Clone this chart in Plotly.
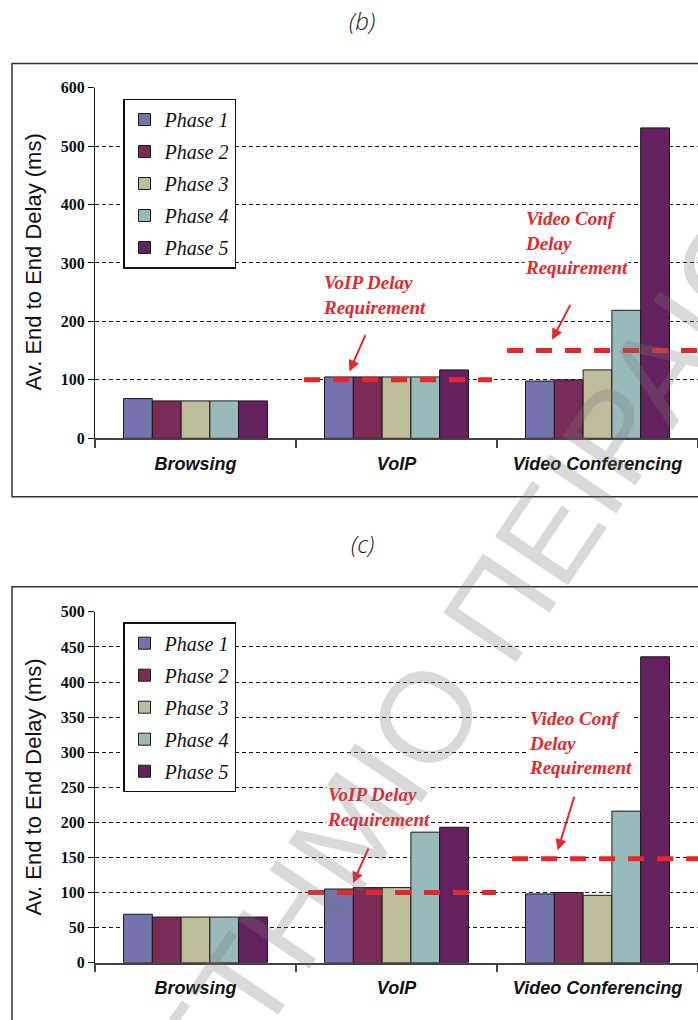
import plotly.graph_objects as go

# ---------------- data ----------------
categories = ["Browsing", "VoIP", "Video Conferencing"]
phases = ["Phase 1", "Phase 2", "Phase 3", "Phase 4", "Phase 5"]

# panel (b)
b_phase1 = [68, 105, 98]
b_phase2 = [64, 105, 100]
b_phase3 = [64, 105, 117]
b_phase4 = [64, 105, 219]
b_phase5 = [64, 117, 531]

# panel (c)
c_phase1 = [69, 105, 98]
c_phase2 = [65, 107, 100]
c_phase3 = [65, 107, 96]
c_phase4 = [65, 186, 216]
c_phase5 = [65, 193, 436]

voip_requirement = 100
video_requirement_b = 150
video_requirement_c = 148

b_ticks = [0, 100, 200, 300, 400, 500, 600]
c_ticks = [0, 50, 100, 150, 200, 250, 300, 350, 400, 450, 500]

# ---------------- style ----------------
colors = ["#7373ae", "#7b2b58", "#bebc99", "#98baba", "#64215f"]
RED = "#e5272b"
W, H = 698, 1020


def px_x(p):
    return p / W


def px_y(p):
    # vertical pixel (from top) -> paper coordinate
    return 1 - ((p - 7.4) / 0.984) / H


fig = go.Figure()

b_series = [b_phase1, b_phase2, b_phase3, b_phase4, b_phase5]
c_series = [c_phase1, c_phase2, c_phase3, c_phase4, c_phase5]

for i, (name, vals) in enumerate(zip(phases, b_series)):
    fig.add_trace(go.Bar(
        x=categories, y=vals, name=name, xaxis="x", yaxis="y",
        marker=dict(color=colors[i], line=dict(color="#1a1a1a", width=1)),
        legend="legend", legendgroup="b" + str(i),
    ))
for i, (name, vals) in enumerate(zip(phases, c_series)):
    fig.add_trace(go.Bar(
        x=categories, y=vals, name=name, xaxis="x2", yaxis="y2",
        marker=dict(color=colors[i], line=dict(color="#1a1a1a", width=1)),
        legend="legend2", legendgroup="c" + str(i),
    ))

xaxis_common = dict(
    type="category", range=[-0.5, 2.5], showline=True, linecolor="#444",
    linewidth=1.5, ticks="outside", tickson="boundaries", ticklen=8,
    tickcolor="#444", tickwidth=1.5, showgrid=False, zeroline=False,
    tickfont=dict(family="Liberation Sans, Arial", size=18, color="#111",
                  weight="bold", style="italic"),
    ticklabelstandoff=8,
)
yaxis_common = dict(
    showline=True, linecolor="#111", linewidth=1.2, ticks="outside",
    ticklen=6, tickcolor="#111", showgrid=True, gridcolor="#111",
    gridwidth=1, griddash="4px,3px", zeroline=False,
    tickfont=dict(family="Liberation Serif, Times New Roman", size=16,
                  color="#111", weight="bold"),
)

legend_font = dict(family="Liberation Serif, Times New Roman", size=20,
                   style="italic", color="#111")

fig.update_layout(
    width=W, height=H, margin=dict(l=0, r=0, t=0, b=0),
    paper_bgcolor="white", plot_bgcolor="rgba(0,0,0,0)",
    barmode="group", bargap=0.284, bargroupgap=0,
    xaxis=dict(domain=[px_x(95), 1], anchor="y", **xaxis_common),
    yaxis=dict(domain=[px_y(438), px_y(87)], anchor="x", range=[0, 600],
               tickvals=b_ticks, **yaxis_common),
    xaxis2=dict(domain=[px_x(95), 1], anchor="y2", **xaxis_common),
    yaxis2=dict(domain=[px_y(962.7), px_y(611.7)], anchor="x2", range=[0, 500],
                tickvals=c_ticks, **yaxis_common),
    legend=dict(x=px_x(123), y=px_y(98), xanchor="left", yanchor="top",
                bgcolor="white", bordercolor="#111", borderwidth=1.5,
                font=legend_font, tracegroupgap=3, traceorder="grouped",
                itemwidth=30),
    legend2=dict(x=px_x(123), y=px_y(622), xanchor="left", yanchor="top",
                 bgcolor="white", bordercolor="#111", borderwidth=1.5,
                 font=legend_font, tracegroupgap=3, traceorder="grouped",
                 itemwidth=30),
    showlegend=True,
)

# panel frames
fig.add_shape(type="rect", xref="paper", yref="paper", x0=px_x(12), x1=1.05,
              y0=px_y(496.5), y1=px_y(63), line=dict(color="#333", width=1.5),
              layer="below")
fig.add_shape(type="rect", xref="paper", yref="paper", x0=px_x(12), x1=1.05,
              y0=-0.05, y1=px_y(586.5), line=dict(color="#333", width=1.5),
              layer="below")

# requirement lines
dash = dict(color=RED, width=5, dash="16px,13px")
fig.add_shape(type="line", xref="x", yref="y", x0=0.54, x1=1.475,
              y0=voip_requirement, y1=voip_requirement, line=dash, layer="above")
fig.add_shape(type="line", xref="x", yref="y", x0=1.55, x1=2.5,
              y0=video_requirement_b, y1=video_requirement_b, line=dash, layer="above")
fig.add_shape(type="line", xref="x2", yref="y2", x0=0.56, x1=1.495,
              y0=voip_requirement, y1=voip_requirement, line=dash, layer="above")
fig.add_shape(type="line", xref="x2", yref="y2", x0=1.575, x1=2.5,
              y0=video_requirement_c, y1=video_requirement_c, line=dash, layer="above")

ann_font = dict(family="Liberation Serif, Times New Roman", size=19, color=RED,
                weight="bold", style="italic")


def req_text(text, left, cy):
    fig.add_annotation(text=text, xref="paper", yref="paper", x=px_x(left),
                       y=px_y(cy), xanchor="left", yanchor="middle", align="left",
                       showarrow=False, font=ann_font, bgcolor="white", borderpad=0)


req_text("VoIP Delay<br>Requirement", 322, 294.5)
req_text("Video Conf<br>Delay<br>Requirement", 524, 243)
req_text("VoIP Delay<br>Requirement", 326, 806.7)
req_text("Video Conf<br>Delay<br>Requirement", 528, 742.5)


def arrow(xr, yr, x, y, ax, ay):
    fig.add_annotation(text="", xref=xr, yref=yr, x=x, y=y, ax=ax, ay=ay,
                       showarrow=True, arrowhead=2, arrowsize=1.1,
                       arrowwidth=2, arrowcolor=RED)


arrow("x", "y", 0.766, 114.5, 16.5, -37.7)
arrow("x", "y", 1.774, 168.7, 19, -36.3)
arrow("x2", "y2", 0.784, 113.5, 16, -36)
arrow("x2", "y2", 1.802, 160.3, 17, -55)

# y-axis titles
for cy in (261.5, 787):
    fig.add_annotation(text="Av. End to End Delay (ms)", xref="paper", yref="paper",
                       x=px_x(33.5), y=px_y(cy), xanchor="center", yanchor="middle",
                       textangle=-90, showarrow=False,
                       font=dict(family="Liberation Sans, Arial", size=22, color="#111"))

# panel titles
for label, cy in (("(b)", 20), ("(c)", 543)):
    fig.add_annotation(text=label, xref="paper", yref="paper", x=px_x(362),
                       y=px_y(cy), xanchor="center", yanchor="middle",
                       showarrow=False,
                       font=dict(family="Open Sans, Lato", size=24, color="#222",
                                 style="italic", weight=300))

# watermark
fig.add_annotation(text="ΠΑΝΕΠΙΣΤΗΜΙΟ ΠΕΙΡΑΙΩΣ", xref="paper", yref="paper",
                   x=px_x(354), y=px_y(822), xanchor="center", yanchor="middle",
                   textangle=-56, showarrow=False,
                   font=dict(family="Liberation Sans, Arial", size=128,
                             color="rgba(120,120,120,0.28)"))

fig.write_html(
    "out.html",
    config={"displayModeBar": False},
    post_script=(
        "document.documentElement.style.margin='0';"
        "document.body.style.margin='0';document.body.style.padding='0';"
        "var gd=document.getElementById('{plot_id}');"
        "gd.style.position='fixed';gd.style.top='0px';gd.style.left='0px';"
    ),
)
